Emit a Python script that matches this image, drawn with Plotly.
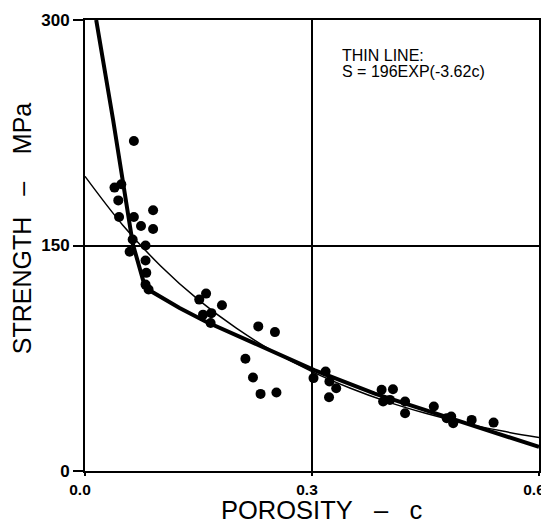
import plotly.graph_objects as go

# Measured data points (porosity c, strength MPa)
porosity = [0.0646, 0.039, 0.048, 0.044, 0.045, 0.090, 0.0646, 0.074, 0.090, 0.063,
            0.080, 0.059, 0.080, 0.081, 0.080, 0.084,
            0.160, 0.151, 0.181, 0.167, 0.156, 0.166, 0.229, 0.251, 0.212, 0.222,
            0.232, 0.253,
            0.302, 0.318, 0.323, 0.332, 0.3225, 0.392, 0.407, 0.394, 0.403, 0.423,
            0.423, 0.461, 0.484, 0.4866, 0.478, 0.511, 0.540]
strength = [219.5, 188.5, 190.7, 180, 169, 173.5, 169, 163, 161, 154,
            150, 145.8, 140, 131.8, 124, 120.7,
            118, 114, 110.2, 105, 104, 98.4, 96.2, 92.4, 74.7, 62.2,
            51.3, 52.2,
            61.8, 66.2, 59.5, 55.1, 49.1, 54, 54.4, 46.2, 47.3, 46.2,
            38.4, 42.9, 36.2, 31.8, 35.1, 34, 32.2]

# Thick (model) line
thick_c = [0.0148, 0.037, 0.0632, 0.079, 0.084, 0.125, 0.160, 0.213, 0.251, 0.303,
           0.383, 0.471, 0.537, 0.600]
thick_s = [300, 234, 151, 123, 120.5, 108.4, 99.3, 87.2, 79, 67.1,
           51.5, 37.1, 26, 16]

# Thin line: S = 196 EXP(-3.62c)
thin_c = [0.0, 0.05, 0.1, 0.15, 0.2, 0.25, 0.3, 0.35, 0.4, 0.45, 0.5, 0.55, 0.6]
thin_s = [196, 163.5, 136.4, 113.8, 95.0, 79.2, 66.1, 55.2, 46.0, 38.4, 32.0, 26.7, 22.3]

x_ticks = [0.0, 0.3, 0.6]
x_tick_labels = ["0.0", "0.3", "0.6"]
y_ticks = [0, 150, 300]
y_tick_labels = ["0", "150", "300"]

NB = "\u00a0"
FONT = "Liberation Sans, Arial, sans-serif"

fig = go.Figure()
fig.add_trace(go.Scatter(x=thin_c, y=thin_s, mode="lines", line=dict(color="black", width=1.5),
                         line_shape="spline", showlegend=False))
fig.add_trace(go.Scatter(x=thick_c, y=thick_s, mode="lines", line=dict(color="black", width=4),
                         showlegend=False))
fig.add_trace(go.Scatter(x=porosity, y=strength, mode="markers",
                         marker=dict(color="black", size=10), showlegend=False))

fig.add_annotation(x=0.337, y=283.5, xref="x", yref="y", xanchor="left", yanchor="top",
                   text="THIN LINE:", showarrow=False, align="left",
                   font=dict(family=FONT, size=16, color="black"))
fig.add_annotation(x=0.337, y=273, xref="x", yref="y", xanchor="left", yanchor="top",
                   text="S = 196EXP(-3.62c)", showarrow=False, align="left",
                   font=dict(family=FONT, size=16, color="black"))

# Axis titles
fig.add_annotation(x=0.522, y=-0.086, xref="paper", yref="paper", xanchor="center", yanchor="middle",
                   text="POROSITY" + NB * 3 + "–" + NB * 3 + "c", showarrow=False,
                   font=dict(family=FONT, size=25.5, color="black"))
fig.add_annotation(x=-0.137, y=0.538, xref="paper", yref="paper", xanchor="center", yanchor="middle",
                   text="STRENGTH" + NB * 3 + "–" + NB * 4 + "MPa", showarrow=False, textangle=-90,
                   font=dict(family=FONT, size=25, color="black"))

axis_common = dict(showline=True, linecolor="black", linewidth=2, mirror=True,
                   showgrid=True, gridcolor="black", gridwidth=1.5, automargin=False,
                   zeroline=False, ticks="outside", tickcolor="black", tickwidth=1.5,
                   ticklabeloverflow="allow")

fig.update_xaxes(range=[0, 0.6], tickvals=x_ticks, ticktext=x_tick_labels, ticklen=3,
                 ticklabelshift=-5,
                 tickfont=dict(family=FONT, size=15.5, color="black", weight="bold"),
                 **axis_common)
fig.update_yaxes(range=[0, 300], tickvals=y_ticks, ticktext=y_tick_labels, ticklen=10,
                 tickfont=dict(family=FONT, size=17, color="black", weight="bold"),
                 **axis_common)

# The page body adds an 8 px offset, so the figure is sized to end at the window edge.
fig.update_layout(width=541, height=516, margin=dict(l=77, r=10, t=12, b=53),
                  plot_bgcolor="white", paper_bgcolor="white")

fig.write_html("out.html")
